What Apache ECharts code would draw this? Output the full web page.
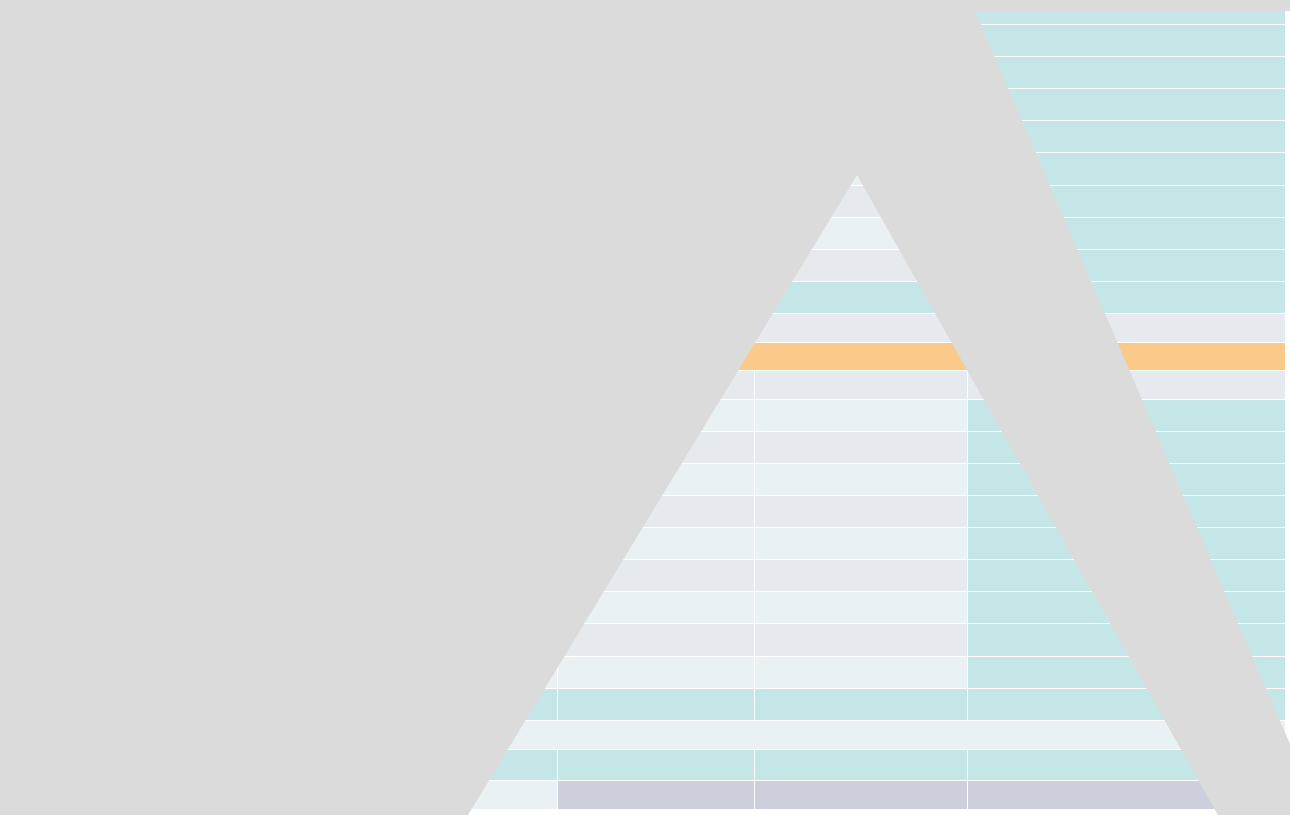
<!DOCTYPE html>
<html>
<head>
<meta charset="utf-8">
<script src="https://cdn.jsdelivr.net/npm/echarts@6/dist/echarts.min.js"></script>
<style>
html,body{margin:0;padding:0;background:#ffffff;}
#main{width:1290px;height:815px;}
</style>
</head>
<body>
<div id="main"></div>
<script>
// Row boundaries of the striped table (top to bottom)
const rowEdges = [11, 24, 56, 88, 120, 152, 185, 217, 249, 281, 313, 342, 370, 399, 431, 463, 495, 527, 559, 591, 623, 656, 688, 720, 749, 780, 809];
// Column boundaries
const colEdges = [0, 557, 754, 967, 1285];
// Per row: one letter per column; '-' continues the previous (merged) cell
const rowCells = [
  'T---', 'T---', 'T---', 'T---', 'T---',
  'LLLT', 'GGGT', 'LLLT', 'GGGT',
  'T---', 'G---', 'O---', 'GGGG',
  'LLLT', 'GGGT', 'LLLT', 'GGGT', 'LLLT', 'GGGT', 'LLLT', 'GGGT', 'LLLT',
  'TTTT', 'L---', 'TTTT', 'LBBB'
];
const kinds = ['T', 'G', 'L', 'O', 'B'];
// Outline of the grey "A" shape laid over the table
const maskOutline = [[0, 0], [1290, 0], [1290, 11], [975, 11], [1290, 744], [1290, 815], [1218, 815], [857, 175], [468, 815], [0, 815]];

const kindColors = { T: '#c5e6e7', G: '#e6e9ee', L: '#eaf1f4', O: '#fbc98a', B: '#cdd0dc' };

const cellData = [];
rowCells.forEach((pattern, r) => {
  let c = 0;
  while (c < pattern.length) {
    const k = pattern[c];
    let e = c + 1;
    while (e < pattern.length && pattern[e] === '-') e++;
    cellData.push([colEdges[c], colEdges[e], rowEdges[r], rowEdges[r + 1], kinds.indexOf(k), c === 0 ? 0 : 1, r === 0 ? 0 : 1]);
    c = e;
  }
});

const chart = echarts.init(document.getElementById('main'));
chart.setOption({
  animation: false,
  backgroundColor: '#ffffff',
  grid: { left: 0, right: 0, top: 0, bottom: 0 },
  xAxis: { type: 'value', min: 0, max: 1290, show: false },
  yAxis: { type: 'value', min: 0, max: 815, inverse: true, show: false },
  series: [
    {
      type: 'custom',
      z: 1,
      silent: true,
      encode: { x: [0, 1], y: [2, 3] },
      data: cellData,
      renderItem: function (params, api) {
        const p0 = api.coord([api.value(0), api.value(2)]);
        const p1 = api.coord([api.value(1), api.value(3)]);
        const gx = api.value(5), gy = api.value(6);
        return {
          type: 'rect',
          shape: { x: p0[0] + gx, y: p0[1] + gy, width: p1[0] - p0[0] - gx, height: p1[1] - p0[1] - gy },
          style: { fill: kindColors[kinds[api.value(4)]] }
        };
      }
    },
    {
      type: 'custom',
      z: 5,
      silent: true,
      data: [[0, 0]],
      renderItem: function (params, api) {
        return {
          type: 'polygon',
          shape: { points: maskOutline.map(p => api.coord(p)) },
          style: { fill: '#dbdbdb' }
        };
      }
    }
  ]
});
</script>
</body>
</html>
